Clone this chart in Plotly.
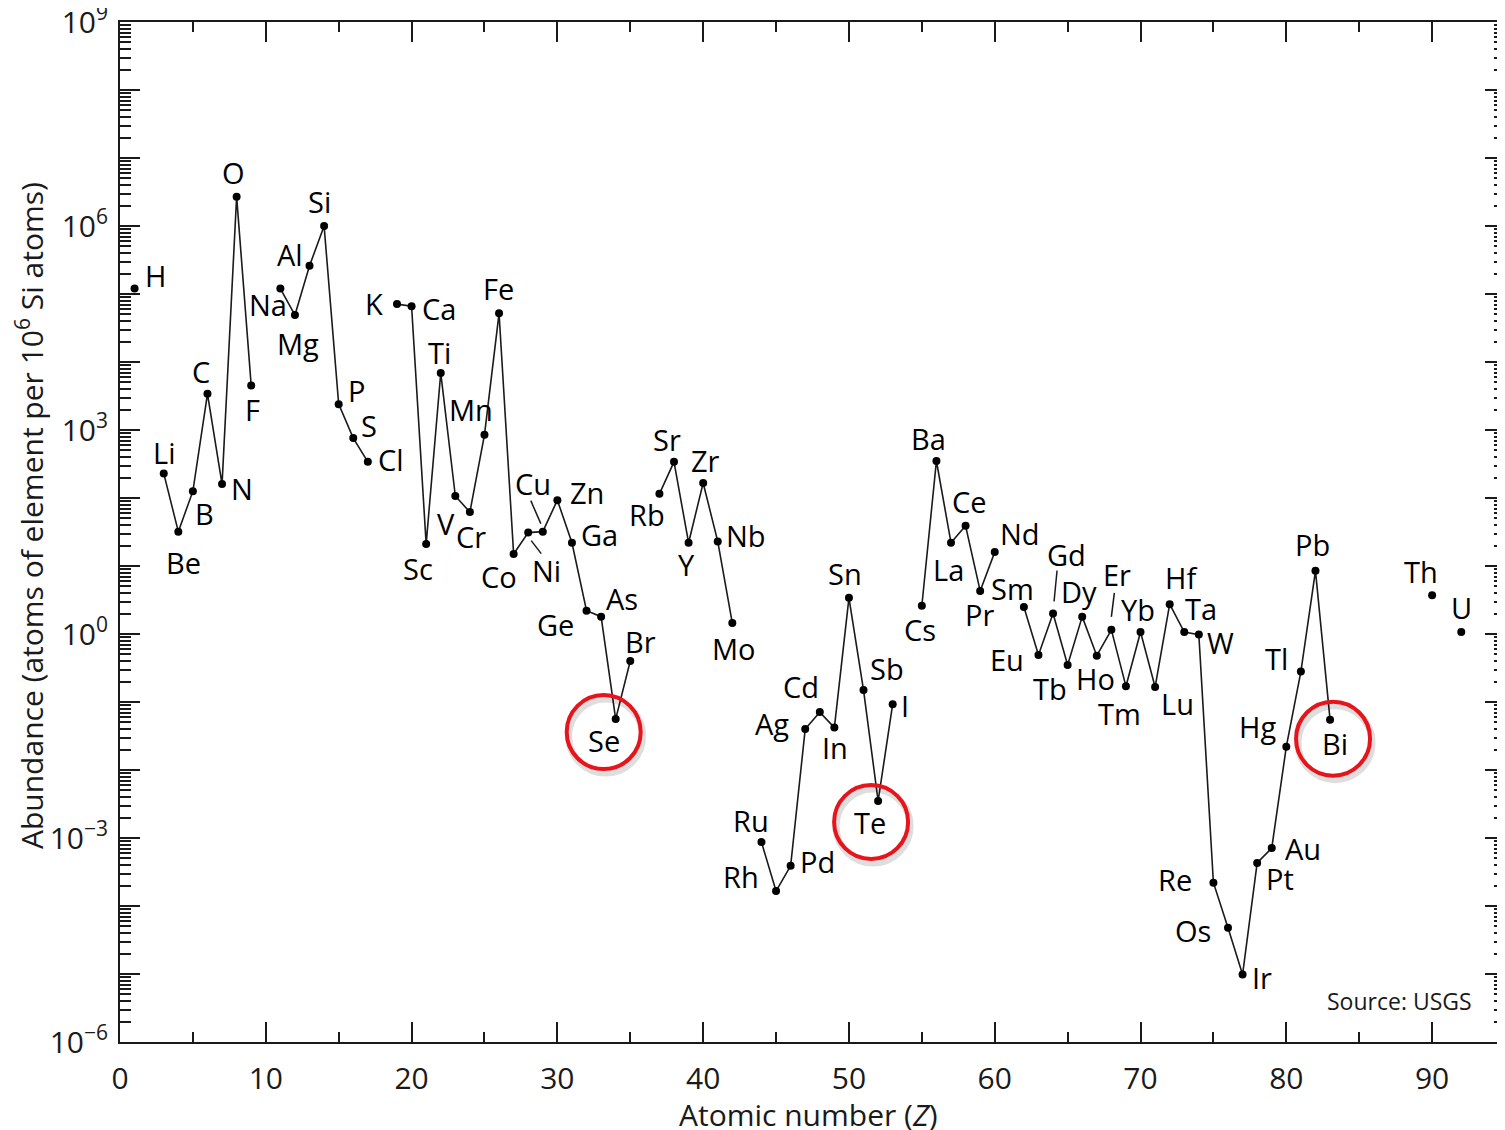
import math
import plotly.graph_objects as go

# ---------------- data ----------------
symbols = ["H", "Li", "Be", "B", "C", "N", "O", "F",
           "Na", "Mg", "Al", "Si", "P", "S", "Cl",
           "K", "Ca", "Sc", "Ti", "V", "Cr", "Mn", "Fe", "Co", "Ni", "Cu", "Zn",
           "Ga", "Ge", "As", "Se", "Br",
           "Rb", "Sr", "Y", "Zr", "Nb", "Mo",
           "Ru", "Rh", "Pd", "Ag", "Cd", "In", "Sn", "Sb", "Te", "I",
           "Cs", "Ba", "La", "Ce", "Pr", "Nd",
           "Sm", "Eu", "Gd", "Tb", "Dy", "Ho", "Er", "Tm", "Yb", "Lu",
           "Hf", "Ta", "W", "Re", "Os", "Ir", "Pt", "Au", "Hg", "Tl", "Pb", "Bi",
           "Th", "U"]
atomic_numbers = [1, 3, 4, 5, 6, 7, 8, 9,
                  11, 12, 13, 14, 15, 16, 17,
                  19, 20, 21, 22, 23, 24, 25, 26, 27, 28, 29, 30,
                  31, 32, 33, 34, 35,
                  37, 38, 39, 40, 41, 42,
                  44, 45, 46, 47, 48, 49, 50, 51, 52, 53,
                  55, 56, 57, 58, 59, 60,
                  62, 63, 64, 65, 66, 67, 68, 69, 70, 71,
                  72, 73, 74, 75, 76, 77, 78, 79, 80, 81, 82, 83,
                  90, 92]
abundance = [1.2e5, 230, 32, 126, 3400, 160, 2.7e6, 4500,
             1.2e5, 4.9e4, 2.6e5, 1.0e6, 2400, 760, 340,
             7.1e4, 6.6e4, 21, 6900, 107, 62, 850, 5.2e4, 15, 31, 32, 93,
             22, 2.2, 1.8, 0.056, 0.40,
             115, 340, 22, 166, 23, 1.45,
             8.7e-4, 1.66e-4, 3.9e-4, 0.040, 0.071, 0.042, 3.4, 0.15, 0.0035, 0.093,
             2.6, 350, 22, 39, 4.3, 16,
             2.5, 0.49, 2.0, 0.35, 1.8, 0.48, 1.15, 0.17, 1.07, 0.166,
             2.75, 1.07, 0.98, 2.2e-4, 4.8e-5, 9.8e-6, 4.3e-4, 7.1e-4, 0.022, 0.28, 8.5, 0.055,
             3.7, 1.07]

x_tick_values = [0, 10, 20, 30, 40, 50, 60, 70, 80, 90]
x_minor_values = [5, 15, 25, 35, 45, 55, 65, 75, 85, 95]
y_decades = list(range(-6, 10))
y_labeled = [-6, -3, 0, 3, 6, 9]
highlighted = ["Se", "Te", "Bi"]

# ---------------- layout / label placement (pixels, x right, y down) ----------------
FIG_W, FIG_H = 1497, 1122
M_L, M_R, M_T, M_B = 112, 0, 14, 88
PLOT_W = FIG_W - M_L - M_R
PLOT_H = FIG_H - M_T - M_B
X_RANGE = [0, 95]
Y_RANGE = [-6, 9]

label_offsets = {
    "H": (21, -13), "Li": (0, -21), "Be": (5, 31), "B": (12, 22), "C": (-6, -22),
    "N": (20, 4), "O": (-3, -24), "F": (1, 24), "Na": (-12, 16), "Mg": (3, 28),
    "Al": (-20, -11), "Si": (-5, -25), "P": (18, -14), "S": (16, -13), "Cl": (23, -2),
    "K": (-23, -1), "Ca": (27, 2), "Sc": (-8, 24), "Ti": (-1, -20), "V": (-9, 27),
    "Cr": (1, 24), "Mn": (-13, -25), "Fe": (-1, -25), "Co": (-15, 22), "Ni": (18, 38),
    "Cu": (-10, -48), "Zn": (30, -8), "Ga": (28, -8), "Ge": (-31, 14), "As": (21, -18),
    "Se": (-12, 21), "Br": (10, -20), "Rb": (-12, 21), "Sr": (-7, -22), "Y": (-2, 22),
    "Zr": (2, -23), "Nb": (28, -6), "Mo": (2, 25), "Ru": (-10, -22), "Rh": (-35, -15),
    "Pd": (27, -4), "Ag": (-33, -6), "Cd": (-19, -26), "In": (1, 20), "Sn": (-4, -24),
    "Sb": (23, -22), "Te": (-8, 21), "I": (12, 1), "Cs": (-2, 24), "Ba": (-8, -23),
    "La": (-3, 27), "Ce": (4, -24), "Pr": (-1, 24), "Nd": (25, -19), "Sm": (-11, -18),
    "Eu": (-31, 4), "Gd": (13, -59), "Tb": (-18, 23), "Dy": (-3, -25), "Ho": (-1, 23),
    "Er": (6, -55), "Tm": (-6, 27), "Yb": (-3, -23), "Lu": (22, 16), "Hf": (12, -27),
    "Ta": (17, -24), "W": (22, 8), "Re": (-38, -3), "Os": (-35, 3), "Ir": (19, 3),
    "Pt": (23, 16), "Au": (31, 0), "Hg": (-29, -20), "Tl": (-24, -13), "Pb": (-3, -26),
    "Bi": (5, 24), "Th": (-11, -24), "U": (0, -25),
}
leader_lines = {  # (x0, y0, x1, y1) in px relative to the dot, y down
    "Cu": (-12, -31, -2, -8),
    "Ni": (3, 8, 13, 21),
    "Gd": (4, -43, 1, -12),
    "Er": (3, -37, 0, -13),
}
circle_offsets = {"Se": (-12, 13), "Te": (-7, 21), "Bi": (3, 19)}
circle_radius = 37

FONT = "Open Sans, Lato, DejaVu Sans, sans-serif"
INK = "#1a1a1a"
LABEL_SIZE = 29


def to_paper(z, v, dx=0.0, dy=0.0):
    """data point (+ pixel offset, y down) -> paper coordinates via the axis scales"""
    px = (z - X_RANGE[0]) / (X_RANGE[1] - X_RANGE[0]) + dx / PLOT_W
    py = (math.log10(v) - Y_RANGE[0]) / (Y_RANGE[1] - Y_RANGE[0]) - dy / PLOT_H
    return px, py


# ---------------- build line with gaps where elements are missing ----------------
lx, ly = [], []
for i, (z, v) in enumerate(zip(atomic_numbers, abundance)):
    if i > 0 and z - atomic_numbers[i - 1] > 1:
        lx.append(None)
        ly.append(None)
    lx.append(z)
    ly.append(v)

fig = go.Figure()
fig.add_trace(go.Scatter(
    x=lx, y=ly, mode="lines", connectgaps=False,
    line=dict(color=INK, width=1.6), hoverinfo="skip", showlegend=False))
fig.add_trace(go.Scatter(
    x=atomic_numbers, y=abundance, mode="markers", text=symbols,
    marker=dict(color="black", size=8), showlegend=False))
# empty trace so that the mirrored top/right axes are drawn
fig.add_trace(go.Scatter(x=[None], y=[None], xaxis="x2", yaxis="y2",
                         mode="markers", showlegend=False, hoverinfo="skip"))

value_of = dict(zip(symbols, abundance))
z_of = dict(zip(symbols, atomic_numbers))

annotations = []
for s in symbols:
    dx, dy = label_offsets[s]
    annotations.append(dict(
        x=z_of[s], y=math.log10(value_of[s]), xref="x", yref="y",
        text=s, showarrow=False, xanchor="center", yanchor="middle",
        xshift=dx, yshift=-dy, font=dict(family=FONT, size=LABEL_SIZE, color="black")))
annotations.append(dict(
    x=(1474 - 120) / PLOT_W, y=(1042 - 1001) / PLOT_H, xref="paper", yref="paper",
    text="Source: USGS", showarrow=False, xanchor="right", yanchor="middle",
    font=dict(family=FONT, size=23, color=INK)))
# axis titles (placed as in the original)
annotations.append(dict(
    x=(30 - 120) / PLOT_W, y=(1042 - 516) / PLOT_H, xref="paper", yref="paper",
    text="Abundance (atoms of element per 10<sup>6</sup> Si atoms)", textangle=-90,
    showarrow=False, xanchor="center", yanchor="middle",
    font=dict(family=FONT, size=30, color=INK)))
annotations.append(dict(
    x=(808 - 120) / PLOT_W, y=(1042 - 1114) / PLOT_H, xref="paper", yref="paper",
    text="Atomic number (<i>Z</i>)", showarrow=False, xanchor="center", yanchor="middle",
    font=dict(family=FONT, size=30, color=INK)))

shapes = []
for s, (x0, y0, x1, y1) in leader_lines.items():
    p0 = to_paper(z_of[s], value_of[s], x0, y0)
    p1 = to_paper(z_of[s], value_of[s], x1, y1)
    shapes.append(dict(type="line", xref="paper", yref="paper",
                       x0=p0[0], y0=p0[1], x1=p1[0], y1=p1[1],
                       line=dict(color=INK, width=1.5)))
for s in highlighted:
    cx, cy = circle_offsets[s]
    for sx, sy, col, w in [(2, 4, "rgba(0,0,0,0.13)", 7), (0, 0, "#e8141b", 4)]:
        a = to_paper(z_of[s], value_of[s], cx + sx - circle_radius, cy + sy + circle_radius)
        b = to_paper(z_of[s], value_of[s], cx + sx + circle_radius, cy + sy - circle_radius)
        shapes.append(dict(type="circle", xref="paper", yref="paper",
                           x0=a[0], y0=a[1], x1=b[0], y1=b[1],
                           line=dict(color=col, width=w)))

y_major = [10.0 ** k for k in y_decades]
y_text = [("10<sup>%s</sup>" % (str(k).replace("-", "\u2212"))) if k in y_labeled else "" for k in y_decades]
y_minor = [m * 10.0 ** k for k in y_decades[:-1] for m in range(2, 10)]

common_y = dict(type="log", range=Y_RANGE, showgrid=False, zeroline=False, automargin=False,
                tickmode="array", tickvals=y_major, ticks="inside", ticklen=20,
                tickwidth=2, tickcolor=INK,
                minor=dict(tickmode="array", tickvals=y_minor, ticks="inside",
                           ticklen=11, tickwidth=1.5, tickcolor=INK, showgrid=False))
common_x = dict(range=X_RANGE, showgrid=False, zeroline=False, automargin=False,
                tickmode="array", tickvals=x_tick_values, ticks="inside", ticklen=20,
                tickwidth=2, tickcolor=INK,
                minor=dict(tickmode="array", tickvals=x_minor_values, ticks="inside",
                           ticklen=10, tickwidth=2, tickcolor=INK, showgrid=False))

fig.update_layout(
    width=FIG_W, height=FIG_H,
    margin=dict(l=M_L, r=M_R, t=M_T, b=M_B, pad=0, autoexpand=False),
    paper_bgcolor="white", plot_bgcolor="white",
    font=dict(family=FONT, color=INK),
    xaxis=dict(**common_x, showline=True, linecolor=INK, linewidth=2,
               ticktext=[str(v) for v in x_tick_values],
               tickfont=dict(family=FONT, size=30, color=INK), ticklabelstandoff=9),
    xaxis2=dict(**common_x, overlaying="x", side="top", anchor="y",
                showline=True, linecolor=INK, linewidth=2, showticklabels=False),
    yaxis=dict(**common_y, showline=True, linecolor=INK, linewidth=2,
               ticktext=y_text, tickfont=dict(family=FONT, size=30, color=INK),
               ticklabelstandoff=4, ticklabeloverflow="allow"),
    yaxis2=dict(**common_y, overlaying="y", side="right", anchor="x",
                showline=False, showticklabels=False),
    annotations=annotations,
    shapes=shapes,
    hovermode="closest",
)

fig.write_html("out.html")
